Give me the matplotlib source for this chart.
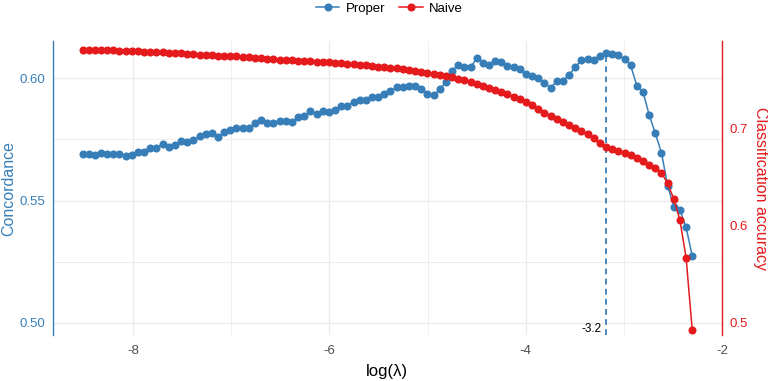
import numpy as np
import matplotlib
matplotlib.use("Agg")
import matplotlib.pyplot as plt
from matplotlib.lines import Line2D

plt.rcParams['font.family'] = ['Liberation Sans', 'DejaVu Sans']

# glmnet lambda path: 100 values, evenly spaced in log(lambda)
log_lambda = np.linspace(-8.516, -2.303, 100)

# concordance of the "Proper" model (left axis)
proper = [
    0.5689, 0.5692, 0.5686, 0.5693, 0.5692, 0.5692, 0.5689, 0.5683, 0.5688, 0.5698,
    0.5698, 0.5716, 0.5716, 0.5731, 0.5718, 0.5727, 0.5745, 0.5739, 0.5746, 0.5763,
    0.5771, 0.5775, 0.5761, 0.5780, 0.5787, 0.5798, 0.5797, 0.5796, 0.5818, 0.5829,
    0.5818, 0.5816, 0.5825, 0.5825, 0.5821, 0.5840, 0.5846, 0.5865, 0.5854, 0.5865,
    0.5862, 0.5870, 0.5887, 0.5889, 0.5904, 0.5911, 0.5910, 0.5922, 0.5922, 0.5938,
    0.5948, 0.5963, 0.5963, 0.5968, 0.5967, 0.5958, 0.5938, 0.5930, 0.5955, 0.5985,
    0.6031, 0.6056, 0.6045, 0.6045, 0.6082, 0.6065, 0.6053, 0.6072, 0.6067, 0.6050,
    0.6045, 0.6038, 0.6016, 0.6011, 0.6003, 0.5983, 0.5960, 0.5989, 0.5991, 0.6015,
    0.6045, 0.6075, 0.6078, 0.6075, 0.6091, 0.6105, 0.6101, 0.6095, 0.6079, 0.6053,
    0.5970, 0.5945, 0.5851, 0.5775, 0.5696, 0.5561, 0.5475, 0.5461, 0.5390, 0.5274,
]

# classification accuracy of the "Naive" model (right axis)
naive = [
    0.7811, 0.7811, 0.7811, 0.7808, 0.7808, 0.7808, 0.7804, 0.7804, 0.7801, 0.7797,
    0.7794, 0.7791, 0.7787, 0.7787, 0.7784, 0.7780, 0.7777, 0.7773, 0.7770, 0.7763,
    0.7760, 0.7756, 0.7753, 0.7753, 0.7749, 0.7746, 0.7742, 0.7739, 0.7732, 0.7725,
    0.7719, 0.7715, 0.7712, 0.7708, 0.7705, 0.7701, 0.7698, 0.7694, 0.7691, 0.7688,
    0.7684, 0.7681, 0.7674, 0.7670, 0.7664, 0.7660, 0.7653, 0.7646, 0.7640, 0.7633,
    0.7626, 0.7622, 0.7612, 0.7605, 0.7598, 0.7588, 0.7578, 0.7567, 0.7554, 0.7543,
    0.7530, 0.7516, 0.7502, 0.7485, 0.7464, 0.7444, 0.7423, 0.7402, 0.7382, 0.7358,
    0.7330, 0.7303, 0.7279, 0.7244, 0.7203, 0.7165, 0.7131, 0.7100, 0.7069, 0.7038,
    0.7007, 0.6976, 0.6945, 0.6905, 0.6849, 0.6811, 0.6791, 0.6770, 0.6746, 0.6725,
    0.6701, 0.6667, 0.6626, 0.6592, 0.6546, 0.6437, 0.6275, 0.6056, 0.5670, 0.4922,
]

x_ticks = [-8, -6, -4, -2]
left_ticks = [0.50, 0.55, 0.60]
right_ticks = [0.5, 0.6, 0.7]

blue = '#377EB8'
red = '#E41A1C'
grid_col = '#EBEBEB'

fig = plt.figure(figsize=(7.68, 3.81), dpi=100)
ax = fig.add_axes([0.0686, 0.1207, 0.8715, 0.7717])
ax2 = ax.twinx()

ax.set_xlim(-8.82, -2.0)
ax.set_ylim(0.4950, 0.6153)
ax2.set_ylim(0.4873, 0.7904)

# grid
ax.set_xticks(x_ticks)
ax.set_xticks([-7, -5, -3], minor=True)
ax.set_yticks(left_ticks)
ax.set_yticks([0.525, 0.575], minor=True)
ax.set_yticklabels(['%.2f' % v for v in left_ticks])
ax.set_xticklabels([str(v) for v in x_ticks])
ax.grid(True, which='major', color=grid_col, lw=1.0)
ax.grid(True, which='minor', color=grid_col, lw=0.6)
ax.set_axisbelow(True)

ax2.set_yticks(right_ticks)
ax2.set_yticklabels([str(v) for v in right_ticks])
ax2.grid(False)

# series
ax.plot(log_lambda, proper, color=blue, lw=1.1, marker='o', ms=4.8, zorder=3)
ax2.plot(log_lambda, naive, color=red, lw=1.1, marker='o', ms=4.8, zorder=3)

# best lambda for Proper
i_best = int(np.argmax(proper))
x_best = log_lambda[i_best]
ax.plot([x_best, x_best], [0.4950, proper[i_best]], color=blue, lw=1.3,
        ls=(0, (3.2, 2.4)), zorder=2)
ax.text(x_best - 0.04, 0.4974, '%.1f' % x_best, ha='right', va='center',
        fontsize=8.5, color='black')

# axes styling
for s in ['top', 'right', 'bottom']:
    ax.spines[s].set_visible(False)
for s in ['top', 'left', 'bottom']:
    ax2.spines[s].set_visible(False)
ax.spines['left'].set_color(blue)
ax.spines['left'].set_linewidth(1.0)
ax2.spines['right'].set_color(red)
ax2.spines['right'].set_linewidth(1.0)

ax.tick_params(axis='x', which='both', length=0, pad=7, labelsize=9.5, labelcolor='#4D4D4D')
ax.tick_params(axis='y', which='both', length=0, pad=5.5, labelsize=9.5, labelcolor=blue)
ax2.tick_params(axis='y', which='both', length=0, pad=5.5, labelsize=9.5, labelcolor=red)

ax.set_xlabel('log(λ)', fontsize=12, labelpad=5)
ax.set_ylabel('Concordance', fontsize=11.5, color=blue, va='center')
ax.yaxis.set_label_coords(-0.0653, 0.5)
ax2.set_ylabel('Classification accuracy', fontsize=11.5, color=red, rotation=270,
               va='center')
ax2.yaxis.set_label_coords(1.0568, 0.5)

handles = [
    Line2D([], [], color=blue, lw=1.1, marker='o', ms=4.8),
    Line2D([], [], color=red, lw=1.1, marker='o', ms=4.8),
]
fig.legend(handles, ['Proper', 'Naive'], loc='upper center', bbox_to_anchor=(0.507, 1.025),
           ncol=2, frameon=False, fontsize=9.5, handlelength=1.8, columnspacing=1.0,
           handletextpad=0.5)

fig.savefig('out.png', dpi=100)
